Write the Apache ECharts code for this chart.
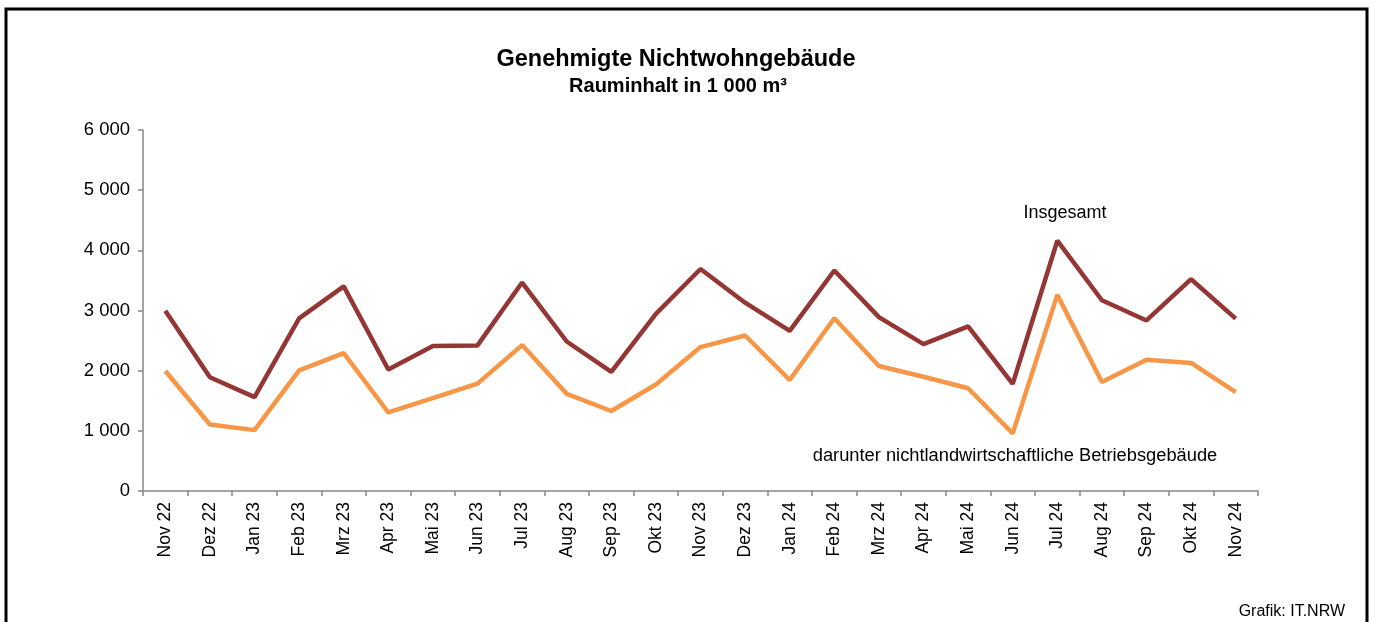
<!DOCTYPE html>
<html><head><meta charset="utf-8">
<script src="https://cdn.jsdelivr.net/npm/echarts@6/dist/echarts.min.js"></script>
<style>html,body{margin:0;padding:0;background:#fff}#c{width:1375px;height:622px}</style>
</head><body><div id="c"></div>
<script>
const categories = ["Nov 22","Dez 22","Jan 23","Feb 23","Mrz 23","Apr 23","Mai 23","Jun 23","Jul 23","Aug 23","Sep 23","Okt 23","Nov 23","Dez 23","Jan 24","Feb 24","Mrz 24","Apr 24","Mai 24","Jun 24","Jul 24","Aug 24","Sep 24","Okt 24","Nov 24"];
const insgesamt = [2995,1890,1560,2870,3400,2020,2410,2420,3465,2485,1980,2945,3690,3130,2660,3665,2890,2440,2735,1780,4160,3170,2835,3520,2865];
const betriebsgebaeude = [1995,1105,1012,2005,2292,1305,1545,1785,2425,1615,1330,1770,2392,2585,1845,2872,2078,1898,1708,958,3260,1810,2180,2128,1645];
const yTicks = [0,1000,2000,3000,4000,5000,6000];

const chart = echarts.init(document.getElementById('c'), null, {renderer:'canvas'});
const font = "'Liberation Sans', Arial, sans-serif";
const fmt = v => String(v).replace(/\B(?=(\d{3})+(?!\d))/g,' ');
chart.setOption({
  animation:false,
  backgroundColor:'#fff',
  textStyle:{fontFamily:font},
  grid:{left:143, right:117, top:130, bottom:131, containLabel:false},
  xAxis:{
    type:'category', data:categories, boundaryGap:true,
    axisLine:{lineStyle:{color:'#868686',width:1.5}},
    axisTick:{show:true,length:5,lineStyle:{color:'#868686',width:1.5},alignWithLabel:false},
    axisLabel:{rotate:90, color:'#000', fontSize:17.5, fontFamily:font, margin:11, interval:0}
  },
  yAxis:{
    type:'value', min:yTicks[0], max:yTicks[yTicks.length-1], interval:1000,
    axisLine:{show:true,lineStyle:{color:'#868686',width:1.5}},
    axisTick:{show:true,length:5,lineStyle:{color:'#868686',width:1.5}},
    splitLine:{show:false},
    axisLabel:{color:'#000', fontSize:18.5, fontFamily:font, margin:13, formatter:fmt}
  },
  series:[
    {name:'Insgesamt', type:'line', data:insgesamt, symbol:'none', lineStyle:{color:'#943634',width:4.5}, itemStyle:{color:'#943634'}},
    {name:'darunter nichtlandwirtschaftliche Betriebsgebäude', type:'line', data:betriebsgebaeude, symbol:'none', lineStyle:{color:'#F79646',width:4.5}, itemStyle:{color:'#F79646'}}
  ],
  graphic:[
    {type:'rect', shape:{x:6,y:9,width:1361,height:700}, style:{fill:'none',stroke:'#000',lineWidth:3}, silent:true},
    {type:'text', x:676, y:60, style:{text:'Genehmigte Nichtwohngebäude', font:"bold 23.5px "+font, fill:'#000', textAlign:'center', textVerticalAlign:'middle'}},
    {type:'text', x:678, y:86, style:{text:'Rauminhalt in 1 000 m³', font:"bold 20px "+font, fill:'#000', textAlign:'center', textVerticalAlign:'middle'}},
    {type:'text', x:1065, y:213, style:{text:'Insgesamt', font:"18px "+font, fill:'#000', textAlign:'center', textVerticalAlign:'middle'}},
    {type:'text', x:1015, y:456, style:{text:'darunter nichtlandwirtschaftliche Betriebsgebäude', font:"18.3px "+font, fill:'#000', textAlign:'center', textVerticalAlign:'middle'}},
    {type:'text', x:1345, y:612, style:{text:'Grafik: IT.NRW', font:"16px "+font, fill:'#000', textAlign:'right', textVerticalAlign:'middle'}}
  ]
});
</script></body></html>
